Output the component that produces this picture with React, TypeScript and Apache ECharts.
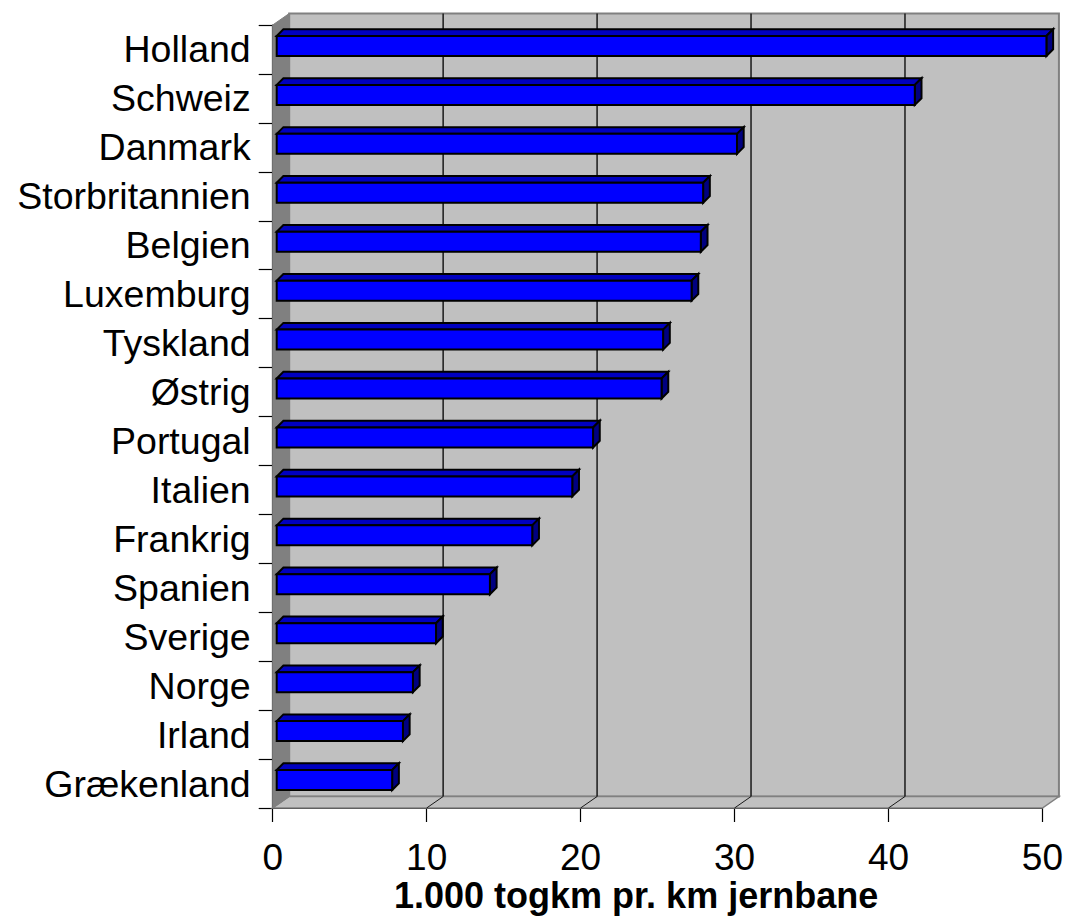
import React, { useEffect, useRef } from "react";
import * as echarts from "echarts";

const categories = [
  "Holland", "Schweiz", "Danmark", "Storbritannien", "Belgien", "Luxemburg",
  "Tyskland", "Østrig", "Portugal", "Italien", "Frankrig", "Spanien",
  "Sverige", "Norge", "Irland", "Grækenland",
];
const values = [50.0, 41.45, 29.9, 27.7, 27.55, 26.95, 25.1, 25.0, 20.55, 19.2, 16.6, 13.85, 10.35, 8.85, 8.2, 7.5];
const xTicks = [0, 10, 20, 30, 40, 50];
const axisTitle = "1.000 togkm pr. km jernbane";

const FONT = "'Liberation Sans', Arial, Helvetica, sans-serif";

export default function App() {
  const ref = useRef<HTMLDivElement>(null);
  useEffect(() => {
    const chart = echarts.init(ref.current!, null, { renderer: "svg" });
    const DX = 16.5, DY = -11.5;
    const option: any = {
      animation: false,
      backgroundColor: "#ffffff",
      title: {
        text: axisTitle,
        left: 394,
        top: 877,
        textStyle: { fontFamily: FONT, fontSize: 36, fontWeight: "bold", color: "#000" },
        padding: 0,
      },
      grid: { left: 272.7, right: 23.3, top: 25, bottom: 113, containLabel: false },
      xAxis: {
        type: "value",
        min: xTicks[0],
        max: xTicks[xTicks.length - 1],
        interval: 10,
        axisLine: { show: true, lineStyle: { color: "#000", width: 1.2 } },
        axisTick: { show: true, length: 14, lineStyle: { color: "#000", width: 1.2 } },
        axisLabel: { fontFamily: FONT, fontSize: 37, color: "#000", margin: 31 },
        splitLine: { show: false },
      },
      yAxis: {
        type: "category",
        data: categories,
        inverse: true,
        axisLine: { show: true, lineStyle: { color: "#000", width: 1.2 } },
        axisTick: { show: true, length: 14, lineStyle: { color: "#000", width: 1.2 } },
        axisLabel: { fontFamily: FONT, fontSize: 37.5, color: "#000", margin: 22, interval: 0, hideOverlap: false },
        splitLine: { show: false },
      },
      series: [
        {
          type: "custom",
          z: 1,
          silent: true,
          data: [[0, 0]],
          encode: { x: 0, y: 1 },
          renderItem: (params: any, api: any) => {
            const cs = params.coordSys;
            const L = cs.x, T = cs.y, R = cs.x + cs.width, B = cs.y + cs.height;
            const children: any[] = [];
            children.push({
              type: "rect",
              shape: { x: L + DX, y: T + DY, width: R - L, height: B - T },
              style: { fill: "#c0c0c0", stroke: "#808080", lineWidth: 2 },
            });
            children.push({
              type: "polygon",
              shape: { points: [[L, B], [L + DX, B + DY], [R + DX, B + DY], [R, B]] },
              style: { fill: "#c0c0c0", stroke: "#808080", lineWidth: 1.5 },
            });
            children.push({
              type: "polygon",
              shape: { points: [[L, T], [L + DX, T + DY], [L + DX, B + DY], [L, B]] },
              style: { fill: "#808080", stroke: "#808080", lineWidth: 1 },
            });
            xTicks.slice(1, -1).forEach((t) => {
              const x = api.coord([t, 0])[0];
              children.push({
                type: "line",
                shape: { x1: x + DX, y1: T + DY, x2: x + DX, y2: B + DY },
                style: { stroke: "#1a1a1a", lineWidth: 1.5 },
              });
              children.push({
                type: "line",
                shape: { x1: x, y1: B, x2: x + DX, y2: B + DY },
                style: { stroke: "#1a1a1a", lineWidth: 1 },
              });
            });
            return { type: "group", children };
          },
        },
        {
          type: "custom",
          z: 3,
          data: values.map((v, i) => [v, i]),
          encode: { x: 0, y: 1 },
          renderItem: (params: any, api: any) => {
            const v = api.value(0);
            const c = api.value(1);
            const p0 = api.coord([0, c]);
            const p1 = api.coord([v, c]);
            const band = api.size([0, 1])[1];
            const ox = 4;
            const x0 = p0[0] + ox;
            const x1 = p1[0] + ox;
            const yc = p0[1];
            const yT = yc - band * 0.276;
            const yB = yc + band * 0.133;
            const d = 6.7;
            const st = { stroke: "#000", lineWidth: 2, lineJoin: "miter" };
            return {
              type: "group",
              children: [
                {
                  type: "polygon",
                  shape: { points: [[x0, yT], [x0 + d, yT - d], [x1 + d, yT - d], [x1, yT]] },
                  style: { fill: "#0000c0", ...st },
                },
                {
                  type: "polygon",
                  shape: { points: [[x1, yT], [x1 + d, yT - d], [x1 + d, yB - d], [x1, yB]] },
                  style: { fill: "#000080", ...st },
                },
                {
                  type: "rect",
                  shape: { x: x0, y: yT, width: x1 - x0, height: yB - yT },
                  style: { fill: "#0000ff", ...st },
                },
              ],
            };
          },
        },
      ],
    };
    chart.setOption(option);
    return () => chart.dispose();
  }, []);
  return (
    <div
      ref={ref}
      style={{ position: "fixed", left: 0, top: 0, width: 1066, height: 921 }}
    />
  );
}
